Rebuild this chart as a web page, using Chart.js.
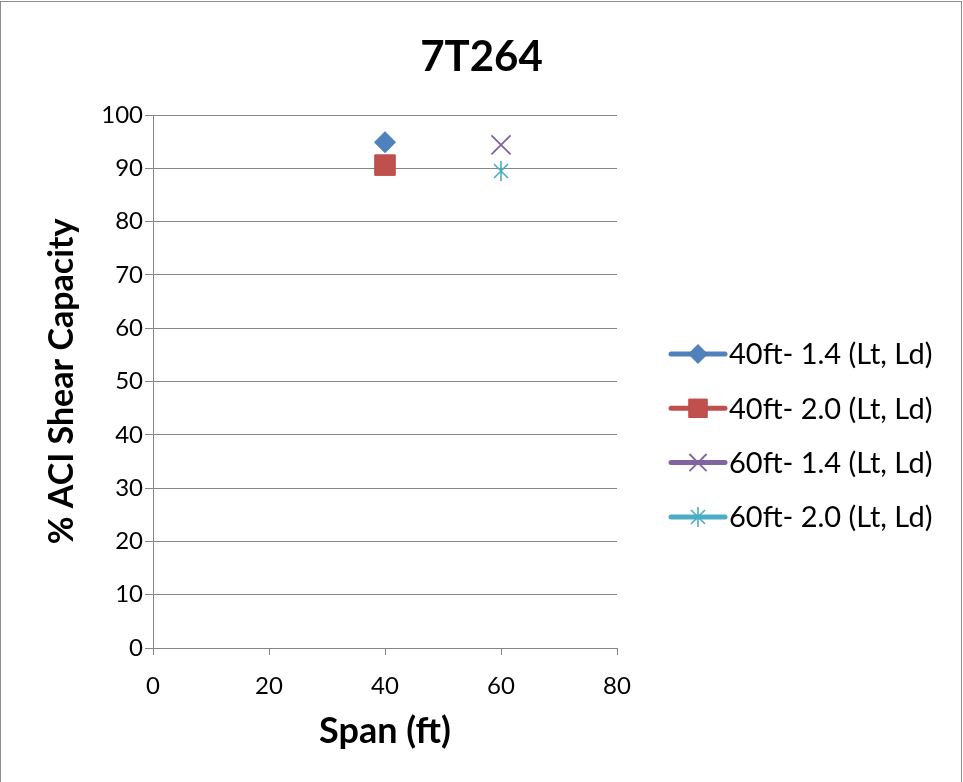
<!DOCTYPE html>
<html>
<head>
<meta charset="utf-8">
<script src="https://cdn.jsdelivr.net/npm/chart.js@4.4.1/dist/chart.umd.min.js"></script>
<style>
  html, body { margin: 0; padding: 0; background: #ffffff; }
  #wrap { position: relative; width: 963px; height: 782px; }
</style>
</head>
<body>
<div id="wrap"><canvas id="chart" width="963" height="782"></canvas></div>
<script>
// Series data: span of the member and percentage of ACI shear capacity
const chartTitle = '7T264';
const seriesNames = ['40ft- 1.4 (Lt, Ld)', '40ft- 2.0 (Lt, Ld)', '60ft- 1.4 (Lt, Ld)', '60ft- 2.0 (Lt, Ld)'];
const spanFt = [40, 40, 60, 60];
const shearCapacityPct = [94.9, 90.6, 94.4, 89.5];
const seriesColors = ['#4F81BD', '#C0504D', '#8064A2', '#4BACC6'];
const xTicks = [0, 20, 40, 60, 80];
const yTicks = [0, 10, 20, 30, 40, 50, 60, 70, 80, 90, 100];

const FONT = 'Lato, "Open Sans", "DejaVu Sans", sans-serif';

// Asterisk marker: vertical bar plus two diagonals
function makeAsterisk(color) {
  const c = document.createElement('canvas');
  c.width = 22; c.height = 22;
  const g = c.getContext('2d');
  g.strokeStyle = color;
  g.lineWidth = 1.6;
  g.beginPath();
  g.moveTo(11, 1); g.lineTo(11, 21);
  g.moveTo(4, 4); g.lineTo(18, 18);
  g.moveTo(18, 4); g.lineTo(4, 18);
  g.stroke();
  return c;
}
const asterisk = makeAsterisk(seriesColors[3]);

const markerStyles = [
  { pointStyle: 'rectRot', radius: 10.5, borderWidth: 1, borderColor: '#4A7CB6', backgroundColor: seriesColors[0] },
  { pointStyle: 'rect', radius: 14.5, borderWidth: 1, borderColor: '#BB4B48', backgroundColor: seriesColors[1] },
  { pointStyle: 'crossRot', radius: 13.5, borderWidth: 1.8, borderColor: seriesColors[2], backgroundColor: seriesColors[2] },
  { pointStyle: asterisk, radius: 11, borderWidth: 1, borderColor: seriesColors[3], backgroundColor: seriesColors[3] }
];

const datasets = seriesNames.map((name, i) => ({
  label: name,
  data: [{ x: spanFt[i], y: shearCapacityPct[i] }],
  showLine: false,
  pointStyle: markerStyles[i].pointStyle,
  pointRadius: markerStyles[i].radius,
  pointHoverRadius: markerStyles[i].radius,
  pointBorderWidth: markerStyles[i].borderWidth,
  pointBorderColor: markerStyles[i].borderColor,
  pointBackgroundColor: markerStyles[i].backgroundColor,
  borderColor: seriesColors[i],
  backgroundColor: seriesColors[i]
}));

// Outer frame and a title centred across the full width
const framePlugin = {
  id: 'frame',
  afterDraw(chart) {
    const ctx = chart.ctx;
    ctx.save();
    ctx.strokeStyle = '#8C8C8C';
    ctx.lineWidth = 1;
    ctx.strokeRect(0.5, 1.5, 961, 800);
    ctx.fillStyle = '#000000';
    ctx.font = 'bold 42px ' + FONT;
    ctx.textAlign = 'center';
    ctx.textBaseline = 'middle';
    ctx.fillText(chartTitle, chart.width / 2, 57);
    ctx.restore();
  }
};

// Legend on the right: line segment with the series marker, then the label
const sideLegend = {
  id: 'sideLegend',
  afterDraw(chart) {
    const ctx = chart.ctx;
    const x0 = chart.chartArea.right + 54;
    const x1 = x0 + 54;
    const rowTop = 354;
    const rowGap = 54.3;
    ctx.save();
    chart.data.datasets.forEach((ds, i) => {
      const y = rowTop + i * rowGap;
      ctx.strokeStyle = seriesColors[i];
      ctx.lineWidth = 5;
      ctx.lineCap = 'round';
      ctx.beginPath();
      ctx.moveTo(x0, y);
      ctx.lineTo(x1, y);
      ctx.stroke();
      const m = markerStyles[i];
      ctx.fillStyle = m.backgroundColor;
      ctx.strokeStyle = m.borderColor;
      ctx.lineWidth = m.borderWidth;
      ctx.lineCap = 'butt';
      Chart.helpers.drawPoint(ctx, { pointStyle: m.pointStyle, radius: m.radius * 0.9, rotation: 0, borderWidth: m.borderWidth }, (x0 + x1) / 2, y);
      ctx.fillStyle = '#000000';
      ctx.font = '29px ' + FONT;
      ctx.textBaseline = 'middle';
      ctx.textAlign = 'left';
      ctx.fillText(ds.label, x1 + 4, y + 1);
    });
    ctx.restore();
  }
};

new Chart(document.getElementById('chart'), {
  type: 'scatter',
  data: { datasets },
  plugins: [framePlugin, sideLegend],
  options: {
    responsive: false,
    animation: false,
    devicePixelRatio: 1,
    layout: { padding: { left: 0, right: 346, top: 115, bottom: 0 } },
    plugins: {
      legend: { display: false },
      tooltip: { enabled: false },
      title: { display: false }
    },
    scales: {
      x: {
        type: 'linear',
        min: 0, max: 80,
        afterBuildTicks(scale) { scale.ticks = xTicks.map(v => ({ value: v })); },
        afterFit(scale) { scale.height = 134; },
        grid: { display: true, drawOnChartArea: false, drawTicks: true, tickLength: 7, color: '#868686' },
        border: { display: true, color: '#868686', width: 1 },
        ticks: { color: '#000000', padding: 17, font: { family: FONT, size: 24 } },
        title: {
          display: true, text: 'Span (ft)', color: '#000000',
          font: { family: FONT, size: 36, weight: 'bold', lineHeight: 1.2 },
          padding: { top: 0, bottom: 29 }
        }
      },
      y: {
        type: 'linear',
        min: 0, max: 100,
        afterBuildTicks(scale) { scale.ticks = yTicks.map(v => ({ value: v })); },
        afterFit(scale) { scale.width = 153; },
        grid: { display: true, drawTicks: true, tickLength: 8, color: '#868686' },
        border: { display: true, color: '#868686', width: 1 },
        ticks: { color: '#000000', padding: 2, font: { family: FONT, size: 24 } },
        title: {
          display: true, text: '% ACI Shear Capacity', color: '#000000',
          font: { family: FONT, size: 34, weight: 'bold', lineHeight: 1.2 },
          padding: { top: 42, bottom: 0 }
        }
      }
    }
  }
});
</script>
</body>
</html>
